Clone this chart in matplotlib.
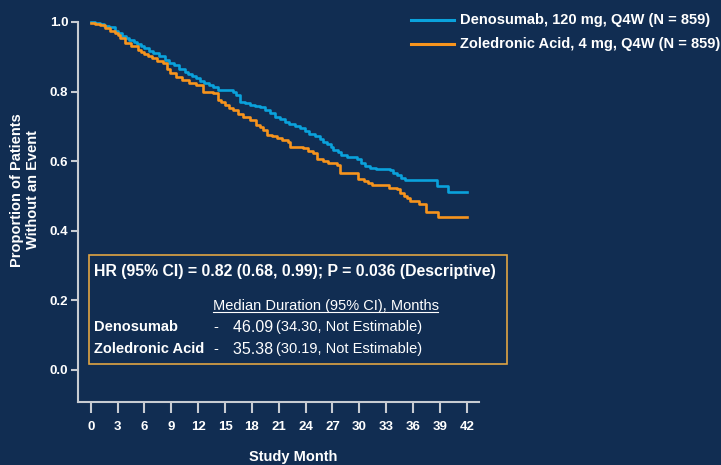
import matplotlib
matplotlib.use("Agg")
import matplotlib.pyplot as plt
from matplotlib.patches import Rectangle
from matplotlib.lines import Line2D

# ---- data ----
deno_t = [0, 0.5, 1.0, 1.5, 2.0, 2.7, 3.1, 3.5, 3.9, 4.3, 4.8, 5.2, 5.6, 6.0, 6.5, 7.0,
          7.6, 8.3, 8.8, 9.3, 9.9, 10.5, 10.9, 11.3, 11.8, 12.2, 12.7, 13.2, 13.7, 14.2,
          15.9, 16.2, 16.7, 17.2, 17.8, 18.4, 18.9, 19.5, 20.0, 20.6, 21.1, 21.7, 22.2,
          22.8, 23.4, 23.9, 24.4, 25.0, 25.6, 26.0, 26.4, 26.8, 27.1, 27.6, 28.0, 28.6,
          29.7, 30.2, 30.6, 31.2, 31.9, 33.4, 33.8, 34.2, 34.7, 35.1, 38.7, 39.9, 42.0]
deno_s = [1.0, 0.997, 0.993, 0.989, 0.985, 0.975, 0.967, 0.96, 0.954, 0.948, 0.942, 0.937,
          0.931, 0.925, 0.918, 0.91, 0.901, 0.891, 0.883, 0.875, 0.866, 0.857, 0.851,
          0.845, 0.838, 0.831, 0.826, 0.82, 0.812, 0.805, 0.80, 0.79, 0.771, 0.766, 0.762,
          0.758, 0.755, 0.746, 0.738, 0.728, 0.72, 0.713, 0.708, 0.701, 0.695, 0.686,
          0.678, 0.671, 0.664, 0.656, 0.648, 0.64, 0.632, 0.625, 0.618, 0.612, 0.605,
          0.595, 0.586, 0.581, 0.577, 0.574, 0.567, 0.56, 0.552, 0.545, 0.529, 0.511, 0.511]

zol_t = [0, 0.5, 1.0, 1.6, 2.1, 2.7, 3.0, 3.3, 3.8, 4.5, 5.3, 5.6, 6.0, 6.4, 6.8, 7.4,
         8.1, 8.5, 8.9, 9.5, 10.2, 11.0, 11.8, 12.5, 13.7, 14.2, 14.6, 15.0, 15.5, 15.9,
         16.5, 17.0, 17.8, 18.5, 18.9, 19.2, 19.7, 20.3, 20.8, 21.4, 22.0, 22.3, 23.7,
         24.3, 24.8, 25.3, 25.9, 26.5, 27.5, 27.8, 29.5, 29.9, 30.5, 31.0, 31.4, 33.3,
         34.2, 34.6, 35.0, 35.3, 35.7, 36.7, 37.5, 38.8, 42.0]
zol_s = [0.997, 0.994, 0.99, 0.982, 0.975, 0.968, 0.962, 0.955, 0.939, 0.93, 0.92, 0.914,
         0.908, 0.902, 0.896, 0.888, 0.881, 0.865, 0.853, 0.843, 0.833, 0.826, 0.819,
         0.80, 0.795, 0.776, 0.769, 0.762, 0.754, 0.747, 0.737, 0.728, 0.718, 0.705,
         0.697, 0.69, 0.675, 0.671, 0.668, 0.662, 0.656, 0.641, 0.637, 0.63, 0.623,
         0.605, 0.6, 0.595, 0.589, 0.567, 0.565, 0.548, 0.542, 0.537, 0.533, 0.524,
         0.519, 0.508, 0.5, 0.493, 0.487, 0.476, 0.455, 0.439, 0.439]

x_ticks = list(range(0, 43, 3))
y_ticks = [0.0, 0.2, 0.4, 0.6, 0.8, 1.0]

deno_label = "Denosumab, 120 mg, Q4W (N = 859)"
zol_label = "Zoledronic Acid, 4 mg, Q4W (N = 859)"
hr_text = "HR (95% CI) = 0.82 (0.68, 0.99); P = 0.036 (Descriptive)"
median_header = "Median Duration (95% CI), Months"
rows = [("Denosumab", "46.09", "(34.30, Not Estimable)"),
        ("Zoledronic Acid", "35.38", "(30.19, Not Estimable)")]

# ---- style ----
BG = "#112d52"
BLUE = "#0aa2dc"
ORANGE = "#f7941d"
AX = "#c8ccd2"
BOX = "#e0a443"
FONT = ["Liberation Sans", "DejaVu Sans"]
plt.rcParams["font.family"] = FONT

W, H = 721, 465
fig = plt.figure(figsize=(W / 100, H / 100), dpi=100, facecolor=BG)

def fx(x):
    return x / W

def fy(y):
    return 1 - y / H

left, right, top, bottom = 78, 479, 22, 402
ax = fig.add_axes([fx(left), fy(bottom), fx(right) - fx(left), fy(top) - fy(bottom)])
ax.set_facecolor(BG)

ax.step(deno_t, deno_s, where="post", color=BLUE, lw=1.9, clip_on=False, zorder=3)
ax.step(zol_t, zol_s, where="post", color=ORANGE, lw=1.9, clip_on=False, zorder=3)

ax.set_xlim(-1.42, 43.37)
ax.set_ylim(-0.092, 1.0)
ax.set_xticks(x_ticks)
ax.set_yticks(y_ticks)
ax.set_yticklabels([f"{v:.1f}" for v in y_ticks])

for s in ["top", "right"]:
    ax.spines[s].set_visible(False)
for s in ["left", "bottom"]:
    ax.spines[s].set_color(AX)
    ax.spines[s].set_linewidth(1.5)

ax.tick_params(axis="x", direction="out", length=8, width=1.5, color=AX, pad=6,
               labelcolor="white", labelsize=9.5)
ax.tick_params(axis="y", direction="out", length=5, width=1.5, color=AX, pad=2,
               labelcolor="white", labelsize=9.5)
for lab in ax.get_xticklabels() + ax.get_yticklabels():
    lab.set_fontweight("bold")

# axis labels
fig.text(fx(293), fy(457), "Study Month", color="white", fontsize=10.5,
         fontweight="bold", ha="center", va="center")
fig.text(fx(25), fy(190), "Proportion of Patients\nWithout an Event", color="white",
         fontsize=10.5, fontweight="bold", ha="center", va="center", rotation=90,
         linespacing=1.1)

# legend
for yy, col, lab in [(20, BLUE, deno_label), (44, ORANGE, zol_label)]:
    fig.add_artist(Line2D([fx(411), fx(454)], [fy(yy), fy(yy)], color=col, lw=2.2,
                          transform=fig.transFigure))
    fig.text(fx(460), fy(yy), lab, color="white", fontsize=10.5, fontweight="bold",
             ha="left", va="center")

# annotation box
fig.add_artist(Rectangle((fx(88.5), fy(364)), fx(506.5) - fx(88.5), fy(255) - fy(364),
                         transform=fig.transFigure, fill=False, edgecolor=BOX, lw=1.2))
fig.text(fx(94), fy(271.5), hr_text, color="white", fontsize=11.4, fontweight="bold",
         ha="left", va="center")
fig.text(fx(213), fy(306), median_header, color="white", fontsize=10.5,
         ha="left", va="center")
fig.add_artist(Line2D([fx(213), fx(438)], [fy(312), fy(312)], color="white", lw=0.8,
                      transform=fig.transFigure))
for yy, (name, med, ci) in zip([327, 349], rows):
    fig.text(fx(94), fy(yy), name, color="white", fontsize=10.5, fontweight="bold",
             ha="left", va="center")
    fig.text(fx(213), fy(yy), "-", color="white", fontsize=10.5, ha="left", va="center")
    t = fig.text(fx(233), fy(yy), med + " ", color="white", fontsize=11.5,
                 ha="left", va="center")
    fig.canvas.draw()
    bb = t.get_window_extent()
    fig.text(bb.x1 / W - 0.002, fy(yy), ci, color="white", fontsize=10.5,
             ha="left", va="center")

fig.savefig("out.png", dpi=100, facecolor=BG)
